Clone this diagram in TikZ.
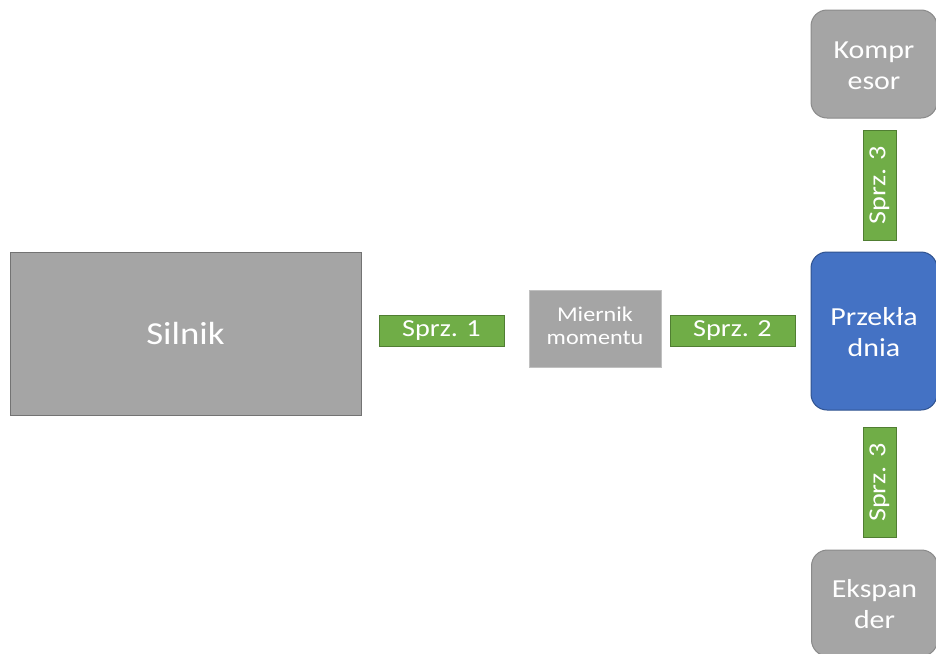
\documentclass[tikz,border=0pt]{standalone}
\usepackage{graphicx}
\usepackage{fontspec}
\setmainfont{Carlito}
\newcommand\sx[1]{\scalebox{1.15}[1]{#1}}
\newcommand\lowr[1]{\raisebox{-4pt}[\height][\depth]{#1}}
\definecolor{gfill}{HTML}{A5A5A5}
\definecolor{gline}{HTML}{8A8A8A}
\definecolor{grn}{HTML}{70AD47}
\definecolor{grnline}{HTML}{507E32}
\definecolor{blu}{HTML}{4472C4}
\definecolor{bluline}{HTML}{2F528F}
\tikzset{
  graybox/.style={draw=gline, fill=gfill, line width=1pt, inner sep=0pt, text=white, align=center},
  roundbox/.style={graybox, rounded corners=16pt},
  coupling/.style={draw=grnline, fill=grn, line width=1pt, inner sep=0pt, text=white,
    minimum width=125pt, minimum height=31pt, font=\fontsize{24.5}{28}\selectfont},
  vcoupling/.style={coupling, rotate=90, minimum width=110pt, minimum height=33pt},
}
\begin{document}
\begin{tikzpicture}[x=1pt,y=-1pt]
\useasboundingbox (0,0) rectangle (936,653);
\clip (0,0) rectangle (936,653);
\node[graybox, draw=gray!90!black, minimum width=351pt, minimum height=163pt, font=\fontsize{32}{38}\selectfont] (silnik) at (185.5,333.5) {\sx{Silnik}};
\node[coupling] (s1) at (441.5,331) {\sx{Sprz. 1}};
\node[graybox, draw=gfill!70!white, minimum width=132pt, minimum height=77pt, font=\fontsize{21}{24}\selectfont] (miernik) at (595,328.5) {\sx{\begin{tabular}{@{}c@{}}Miernik\\[-1pt]momentu\end{tabular}}};
\node[coupling] (s2) at (732.5,331) {\sx{Sprz. 2}};
\node[roundbox, draw=bluline, fill=blu, minimum width=126pt, minimum height=158pt, font=\fontsize{26}{31}\selectfont] (przek) at (874,331) {\lowr{\sx{\begin{tabular}{@{}c@{}}Przekła\\dnia\end{tabular}}}};
\node[roundbox, minimum width=126pt, minimum height=108pt, font=\fontsize{26}{31}\selectfont] (kompr) at (874,64) {\lowr{\sx{\begin{tabular}{@{}c@{}}Kompr\\esor\end{tabular}}}};
\node[vcoupling] (s3a) at (879.5,185) {\sx{Sprz. 3}};
\node[vcoupling] (s3b) at (879.5,482.5) {\sx{Sprz. 3}};
\node[roundbox, minimum width=126pt, minimum height=106pt, font=\fontsize{26}{31}\selectfont] (eksp) at (874.5,603) {\lowr{\sx{\begin{tabular}{@{}c@{}}Ekspan\\der\end{tabular}}}};
\end{tikzpicture}
\end{document}
